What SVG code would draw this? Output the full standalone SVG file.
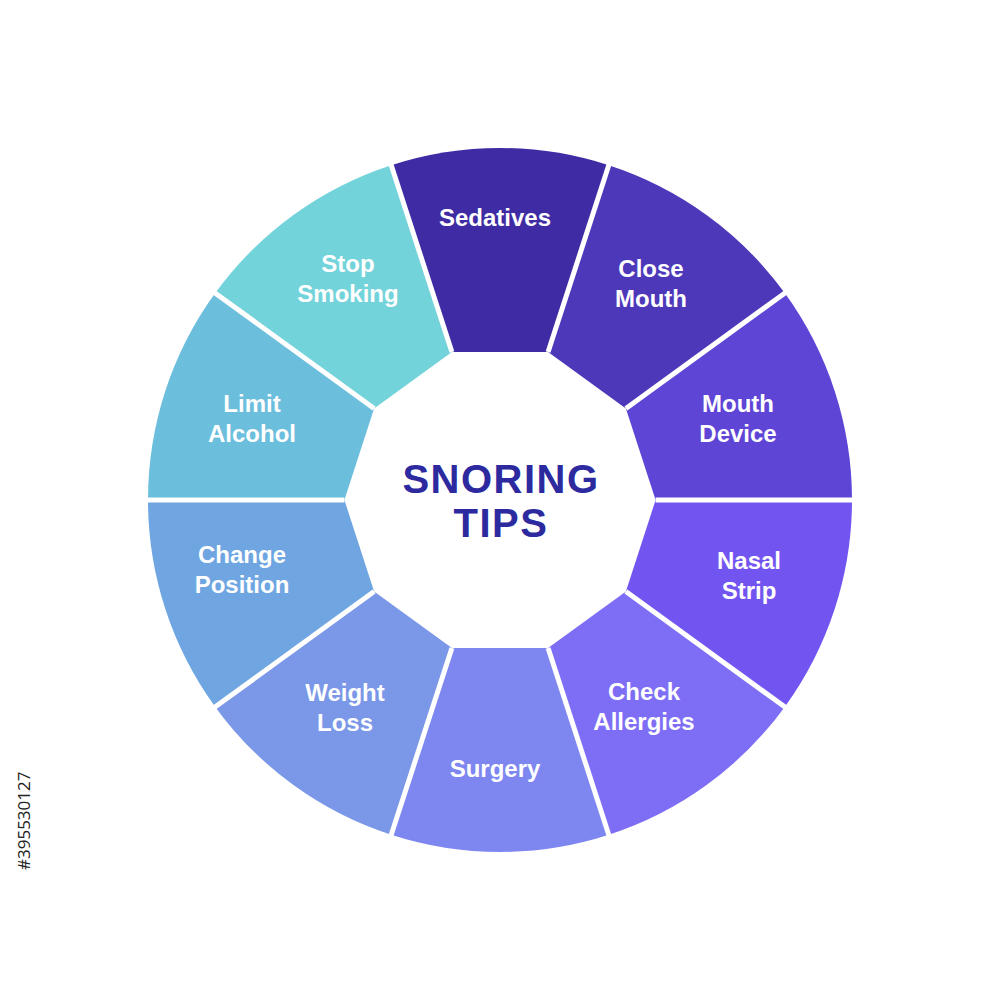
<svg xmlns="http://www.w3.org/2000/svg" width="1000" height="1000" viewBox="0 0 1000 1000">
<style>
.lbl{font-family:"Liberation Sans",Arial,sans-serif;font-weight:bold;font-size:24px;fill:#ffffff;text-anchor:middle}
.title{font-family:"Liberation Sans",Arial,sans-serif;font-weight:bold;font-size:40px;letter-spacing:1.5px;fill:#2d2aa0;text-anchor:middle}
.sep{stroke:#ffffff;stroke-width:5;stroke-linecap:butt}
.id{font-family:"Open Sans","DejaVu Sans",sans-serif;font-size:17px;fill:#222222}
</style>
<rect width="1000" height="1000" fill="#ffffff"/>
<g id="seg-sedatives">
<path d="M391.22 165.23 A352 352 0 0 1 608.78 165.23 L548.08 352.02 L451.92 352.02 Z" fill="#3f2ba3"/>
<text class="lbl" x="495" y="226">Sedatives</text>
</g>
<g id="seg-close-mouth">
<path d="M608.78 165.23 A352 352 0 0 1 784.77 293.10 L625.88 408.54 L548.08 352.02 Z" fill="#4d38ba"/>
<text class="lbl" x="651" y="277">Close</text>
<text class="lbl" x="651" y="307">Mouth</text>
</g>
<g id="seg-mouth-device">
<path d="M784.77 293.10 A352 352 0 0 1 852 500 L655.6 500 L625.88 408.54 Z" fill="#5e45d6"/>
<text class="lbl" x="738" y="412">Mouth</text>
<text class="lbl" x="738" y="442">Device</text>
</g>
<g id="seg-nasal-strip">
<path d="M852 500 A352 352 0 0 1 784.77 706.90 L625.88 591.46 L655.6 500 Z" fill="#7255f0"/>
<text class="lbl" x="749" y="569">Nasal</text>
<text class="lbl" x="749" y="599">Strip</text>
</g>
<g id="seg-check-allergies">
<path d="M784.77 706.90 A352 352 0 0 1 608.78 834.77 L548.08 647.98 L625.88 591.46 Z" fill="#7e6ef5"/>
<text class="lbl" x="644" y="700">Check</text>
<text class="lbl" x="644" y="730">Allergies</text>
</g>
<g id="seg-surgery">
<path d="M608.78 834.77 A352 352 0 0 1 391.22 834.77 L451.92 647.98 L548.08 647.98 Z" fill="#7e87f0"/>
<text class="lbl" x="495" y="777">Surgery</text>
</g>
<g id="seg-weight-loss">
<path d="M391.22 834.77 A352 352 0 0 1 215.23 706.90 L374.12 591.46 L451.92 647.98 Z" fill="#7a97e8"/>
<text class="lbl" x="345" y="701">Weight</text>
<text class="lbl" x="345" y="731">Loss</text>
</g>
<g id="seg-change-position">
<path d="M215.23 706.90 A352 352 0 0 1 148 500 L344.4 500 L374.12 591.46 Z" fill="#6fa6e2"/>
<text class="lbl" x="242" y="563">Change</text>
<text class="lbl" x="242" y="593">Position</text>
</g>
<g id="seg-limit-alcohol">
<path d="M148 500 A352 352 0 0 1 215.23 293.10 L374.12 408.54 L344.4 500 Z" fill="#6cbedd"/>
<text class="lbl" x="252" y="412">Limit</text>
<text class="lbl" x="252" y="442">Alcohol</text>
</g>
<g id="seg-stop-smoking">
<path d="M215.23 293.10 A352 352 0 0 1 391.22 165.23 L451.92 352.02 L374.12 408.54 Z" fill="#73d3da"/>
<text class="lbl" x="348" y="272">Stop</text>
<text class="lbl" x="348" y="302">Smoking</text>
</g>
<g id="separators">
<line class="sep" x1="451.92" y1="352.02" x2="390.6" y2="163.3"/>
<line class="sep" x1="548.08" y1="352.02" x2="609.4" y2="163.3"/>
<line class="sep" x1="625.88" y1="408.54" x2="786.4" y2="291.9"/>
<line class="sep" x1="655.6" y1="500" x2="854" y2="500"/>
<line class="sep" x1="625.88" y1="591.46" x2="786.4" y2="708.1"/>
<line class="sep" x1="548.08" y1="647.98" x2="609.4" y2="836.7"/>
<line class="sep" x1="451.92" y1="647.98" x2="390.6" y2="836.7"/>
<line class="sep" x1="374.12" y1="591.46" x2="213.6" y2="708.1"/>
<line class="sep" x1="344.4" y1="500" x2="146" y2="500"/>
<line class="sep" x1="374.12" y1="408.54" x2="213.6" y2="291.9"/>
</g>
<g id="center">
<text class="title" x="501" y="493">SNORING</text>
<text class="title" x="501" y="537">TIPS</text>
</g>
<text class="id" transform="translate(30 870) rotate(-90)">#395530127</text>
</svg>
